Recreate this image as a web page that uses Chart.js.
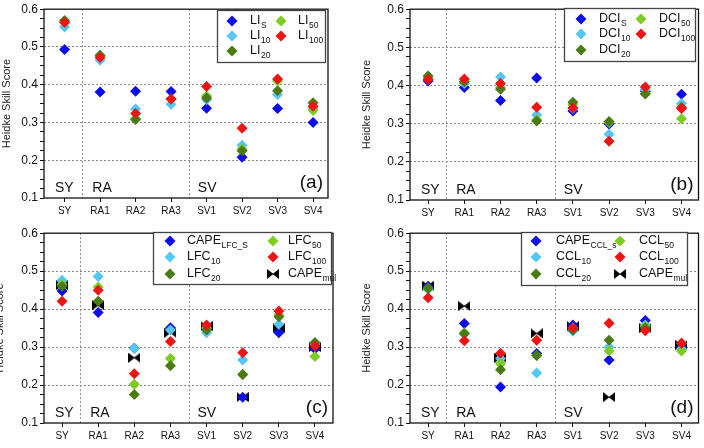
<!DOCTYPE html>
<html>
<head>
<meta charset="utf-8">
<script src="https://cdn.jsdelivr.net/npm/chart.js@4/dist/chart.umd.min.js"></script>
<style>
body { margin: 0; background: #fff; }
.panel { position: absolute; width: 352px; height: 224px; }
</style>
</head>
<body>
<div class="panel" style="left:0;top:0"><canvas id="chartA" width="352" height="224"></canvas></div>
<div class="panel" style="left:352px;top:0"><canvas id="chartB" width="352" height="224"></canvas></div>
<div class="panel" style="left:0;top:224px"><canvas id="chartC" width="352" height="224"></canvas></div>
<div class="panel" style="left:352px;top:224px"><canvas id="chartD" width="352" height="224"></canvas></div>
<script>
const categories = ["SY", "RA1", "RA2", "RA3", "SV1", "SV2", "SV3", "SV4"];
const yTickLabels = [0.1, 0.2, 0.3, 0.4, 0.5, 0.6];

// (a) lifted index
const liS   = [0.493, 0.381, 0.383, 0.382, 0.338, 0.208, 0.337, 0.300];
const li10  = [0.553, 0.465, 0.336, 0.348, 0.360, 0.240, 0.374, 0.338];
const li20  = [0.570, 0.478, 0.308, 0.362, 0.365, 0.225, 0.384, 0.352];
const li50  = [0.568, 0.476, 0.310, 0.362, 0.370, 0.230, 0.410, 0.332];
const li100 = [0.565, 0.472, 0.324, 0.362, 0.395, 0.285, 0.415, 0.343];

// (b) deep convective index
const dciS   = [0.412, 0.395, 0.361, 0.420, 0.333, 0.299, 0.385, 0.377];
const dci10  = [0.418, 0.405, 0.422, 0.323, 0.340, 0.272, 0.390, 0.353];
const dci20  = [0.425, 0.410, 0.390, 0.307, 0.356, 0.306, 0.378, 0.343];
const dci50  = [0.422, 0.410, 0.395, 0.310, 0.350, 0.303, 0.380, 0.313];
const dci100 = [0.416, 0.417, 0.405, 0.343, 0.341, 0.254, 0.396, 0.340];

// (c) CAPE from LFC
const capeLfcS = [0.448, 0.391, 0.297, 0.351, 0.348, 0.168, 0.338, 0.295];
const lfc10    = [0.476, 0.486, 0.296, 0.345, 0.338, 0.266, 0.360, 0.308];
const lfc20    = [0.460, 0.421, 0.175, 0.251, 0.345, 0.228, 0.380, 0.312];
const lfc50    = [0.465, 0.458, 0.202, 0.270, 0.350, 0.228, 0.385, 0.275];
const lfc100   = [0.421, 0.450, 0.230, 0.315, 0.358, 0.285, 0.395, 0.303];
const capeMulC = [0.463, 0.410, 0.272, 0.338, 0.355, 0.168, 0.350, 0.300];

// (d) CAPE from CCL
const capeCclS = [0.460, 0.362, 0.195, 0.283, 0.358, 0.266, 0.370, 0.300];
const ccl10    = [0.452, 0.335, 0.270, 0.232, 0.342, 0.300, 0.358, 0.295];
const ccl20    = [0.455, 0.335, 0.240, 0.278, 0.345, 0.318, 0.350, 0.310];
const ccl50    = [0.455, 0.338, 0.256, 0.278, 0.350, 0.290, 0.355, 0.290];
const ccl100   = [0.430, 0.317, 0.284, 0.318, 0.350, 0.363, 0.343, 0.310];
const capeMulD = [0.462, 0.408, 0.272, 0.336, 0.355, 0.168, 0.350, 0.305];

const BLUE = "#0c0cec", SKY = "#55c6f6", DARK = "#4a7b12", LIME = "#7ccd22", RED = "#ef1414";
const FONT = "'Liberation Sans', Arial, sans-serif";

function makeBowtie() {
    const c = document.createElement("canvas");
    c.width = 12; c.height = 10;
    const g = c.getContext("2d");
    g.fillStyle = "#000";
    g.beginPath(); g.moveTo(0, 0); g.lineTo(6.5, 5); g.lineTo(0, 10); g.closePath(); g.fill();
    g.beginPath(); g.moveTo(12, 0); g.lineTo(5.5, 5); g.lineTo(12, 10); g.closePath(); g.fill();
    return c;
}
const bowtie = makeBowtie();

function isMajor(v) {
    return Math.abs(v * 10 - Math.round(v * 10)) < 1e-6;
}

function series(values, color, order) {
    return {
        data: values.map((v, i) => ({ x: i, y: v })),
        pointStyle: "rectRot",
        pointRadius: 5.5,
        pointHoverRadius: 5.5,
        backgroundColor: color,
        borderColor: color,
        borderWidth: 0,
        order: order
    };
}

function mulSeries(values) {
    return {
        data: values.map((v, i) => ({ x: i, y: v })),
        pointStyle: bowtie,
        order: 10
    };
}

function diamond(ctx, x, y, r, color) {
    ctx.fillStyle = color;
    ctx.beginPath();
    ctx.moveTo(x, y - r); ctx.lineTo(x + r, y); ctx.lineTo(x, y + r); ctx.lineTo(x - r, y);
    ctx.closePath();
    ctx.fill();
}

// extra drawing: frame, separators, region labels, panel letter, legend
const decor = {
    id: "decor",
    beforeDatasetsDraw(chart) {
        const p = chart.options.plugins.decor;
        const ctx = chart.ctx, a = chart.chartArea, xs = chart.scales.x;
        const s1 = xs.getPixelForValue(0.5), s2 = xs.getPixelForValue(3.5);
        ctx.save();
        ctx.strokeStyle = "#8a8a8a";
        ctx.lineWidth = 1;
        ctx.setLineDash([2, 2]);
        [s1, s2].forEach(x => {
            ctx.beginPath();
            ctx.moveTo(Math.round(x) + 0.5, a.top);
            ctx.lineTo(Math.round(x) + 0.5, a.bottom);
            ctx.stroke();
        });
        ctx.setLineDash([]);
        ctx.fillStyle = "#111";
        ctx.font = "14px " + FONT;
        ctx.textBaseline = "alphabetic";
        ctx.textAlign = "left";
        ctx.fillText("SY", a.left + 11, a.bottom - 6.5);
        ctx.fillText("RA", s1 + 10, a.bottom - 6.5);
        ctx.fillText("SV", s2 + 9, a.bottom - 6.5);
        ctx.font = "19px " + FONT;
        ctx.textAlign = "right";
        ctx.fillText(p.letter, a.right - 5, a.bottom - 10);
        ctx.restore();
    },
    afterDraw(chart) {
        const p = chart.options.plugins.decor;
        const ctx = chart.ctx, a = chart.chartArea;
        ctx.save();
        ctx.strokeStyle = "#111";
        ctx.lineWidth = 1.3;
        ctx.strokeRect(a.left, a.top, a.right - a.left, a.bottom - a.top);

        const L = p.legend;
        ctx.fillStyle = "#fff";
        ctx.fillRect(L.x, L.y, L.w, L.h);
        ctx.strokeStyle = "#444";
        ctx.lineWidth = 1.3;
        ctx.strokeRect(L.x + 0.5, L.y + 0.5, L.w, L.h);
        p.entries.forEach((e, k) => {
            const col = k < 3 ? 0 : 1;
            const row = k < 3 ? k : k - 3;
            const mx = L.markers[col], tx = L.texts[col], y = L.rows[row];
            if (e.mul) {
                ctx.drawImage(bowtie, mx - 6, y - 5);
            } else {
                diamond(ctx, mx, y, 5.5, e.color);
            }
            ctx.fillStyle = "#111";
            ctx.textAlign = "left";
            ctx.textBaseline = "middle";
            ctx.font = "12.5px " + FONT;
            ctx.fillText(e.base, tx, y);
            const w = ctx.measureText(e.base).width;
            ctx.font = "8.5px " + FONT;
            ctx.fillText(e.sub, tx + w + 0.5, y + 4.5);
        });
        ctx.restore();
    }
};

function makeChart(id, cfg) {
    const area = cfg.area;
    return new Chart(document.getElementById(id), {
        type: "scatter",
        data: { datasets: cfg.datasets },
        plugins: [decor],
        options: {
            responsive: false,
            animation: false,
            devicePixelRatio: 1,
            layout: { padding: { left: 0, top: area.top, right: 352 - area.right, bottom: 0 } },
            plugins: {
                legend: { display: false },
                tooltip: { enabled: false },
                decor: { letter: cfg.letter, legend: cfg.legend, entries: cfg.entries }
            },
            scales: {
                x: {
                    type: "linear",
                    min: cfg.xMin, max: cfg.xMax,
                    afterBuildTicks: s => { s.ticks = categories.map((c, i) => ({ value: i })); },
                    afterFit: s => { s.height = 224 - area.bottom; },
                    ticks: {
                        autoSkip: false, maxRotation: 0, padding: 3,
                        color: "#111", font: { family: FONT, size: 10 },
                        callback: v => categories[v]
                    },
                    grid: { drawOnChartArea: false, tickLength: 4, tickColor: "#111", tickWidth: 1 },
                    border: { display: false }
                },
                y: {
                    min: 0.1, max: 0.6,
                    afterBuildTicks: s => {
                        const t = [];
                        for (let i = 0; i <= 20; i++) t.push({ value: yTickLabels[0] + i * 0.025 });
                        s.ticks = t;
                    },
                    afterFit: s => { s.width = area.left; },
                    ticks: {
                        autoSkip: false, padding: 2,
                        color: "#111", font: { family: FONT, size: 12 },
                        callback: v => isMajor(v) ? v.toFixed(1) : ""
                    },
                    grid: {
                        tickLength: 4,
                        tickColor: "#111",
                        tickWidth: 1,
                        color: c => (isMajor(c.tick.value) && c.tick.value > 0.15 && c.tick.value < 0.55) ? "#8a8a8a" : "rgba(0,0,0,0)"
                    },
                    border: { display: false, dash: [2, 2] },
                    title: {
                        display: true, text: "Heidke Skill Score", color: "#222",
                        font: { family: FONT, size: 11 },
                        padding: { top: cfg.titlePad, bottom: 0 }
                    }
                }
            }
        }
    });
}

makeChart("chartA", {
    letter: "(a)",
    area: { left: 44, right: 328, top: 7, bottom: 198 },
    xMin: -0.58, xMax: 7.42, titlePad: 0.5,
    datasets: [
        series(liS, BLUE, 5), series(li10, SKY, 4), series(li50, LIME, 3),
        series(li20, DARK, 2), series(li100, RED, 1)
    ],
    entries: [
        { base: "LI", sub: "S", color: BLUE }, { base: "LI", sub: "10", color: SKY },
        { base: "LI", sub: "20", color: DARK }, { base: "LI", sub: "50", color: LIME },
        { base: "LI", sub: "100", color: RED }
    ],
    legend: { x: 217, y: 10, w: 108, h: 52, markers: [232, 281], texts: [250, 298], rows: [21, 36, 51] }
});

makeChart("chartB", {
    letter: "(b)",
    area: { left: 58, right: 347, top: 6, bottom: 200 },
    xMin: -0.5, xMax: 7.47, titlePad: 8.5,
    datasets: [
        series(dciS, BLUE, 5), series(dci10, SKY, 4), series(dci50, LIME, 3),
        series(dci20, DARK, 2), series(dci100, RED, 1)
    ],
    entries: [
        { base: "DCI", sub: "S", color: BLUE }, { base: "DCI", sub: "10", color: SKY },
        { base: "DCI", sub: "20", color: DARK }, { base: "DCI", sub: "50", color: LIME },
        { base: "DCI", sub: "100", color: RED }
    ],
    legend: { x: 212, y: 8, w: 131, h: 53, markers: [229, 289], texts: [247, 307], rows: [19, 34, 50] }
});

makeChart("chartC", {
    letter: "(c)",
    area: { left: 44, right: 333, top: 4, bottom: 199 },
    xMin: -0.5, xMax: 7.5, titlePad: -6.5,
    datasets: [
        mulSeries(capeMulC),
        series(capeLfcS, BLUE, 5), series(lfc10, SKY, 4), series(lfc50, LIME, 3),
        series(lfc20, DARK, 2), series(lfc100, RED, 1)
    ],
    entries: [
        { base: "CAPE", sub: "LFC_S", color: BLUE }, { base: "LFC", sub: "10", color: SKY },
        { base: "LFC", sub: "20", color: DARK }, { base: "LFC", sub: "50", color: LIME },
        { base: "LFC", sub: "100", color: RED }, { base: "CAPE", sub: "mul", mul: true }
    ],
    legend: { x: 153, y: 8, w: 178, h: 52, markers: [170, 273], texts: [187, 288], rows: [17, 33, 50] }
});

makeChart("chartD", {
    letter: "(d)",
    area: { left: 58, right: 347, top: 4, bottom: 199 },
    xMin: -0.5, xMax: 7.47, titlePad: 8.5,
    datasets: [
        mulSeries(capeMulD),
        series(capeCclS, BLUE, 5), series(ccl10, SKY, 4), series(ccl50, LIME, 3),
        series(ccl20, DARK, 2), series(ccl100, RED, 1)
    ],
    entries: [
        { base: "CAPE", sub: "CCL_s", color: BLUE }, { base: "CCL", sub: "10", color: SKY },
        { base: "CCL", sub: "20", color: DARK }, { base: "CCL", sub: "50", color: LIME },
        { base: "CCL", sub: "100", color: RED }, { base: "CAPE", sub: "mul", mul: true }
    ],
    legend: { x: 169, y: 8, w: 166, h: 53, markers: [184, 268], texts: [204, 287], rows: [17, 33, 50] }
});
</script>
</body>
</html>
